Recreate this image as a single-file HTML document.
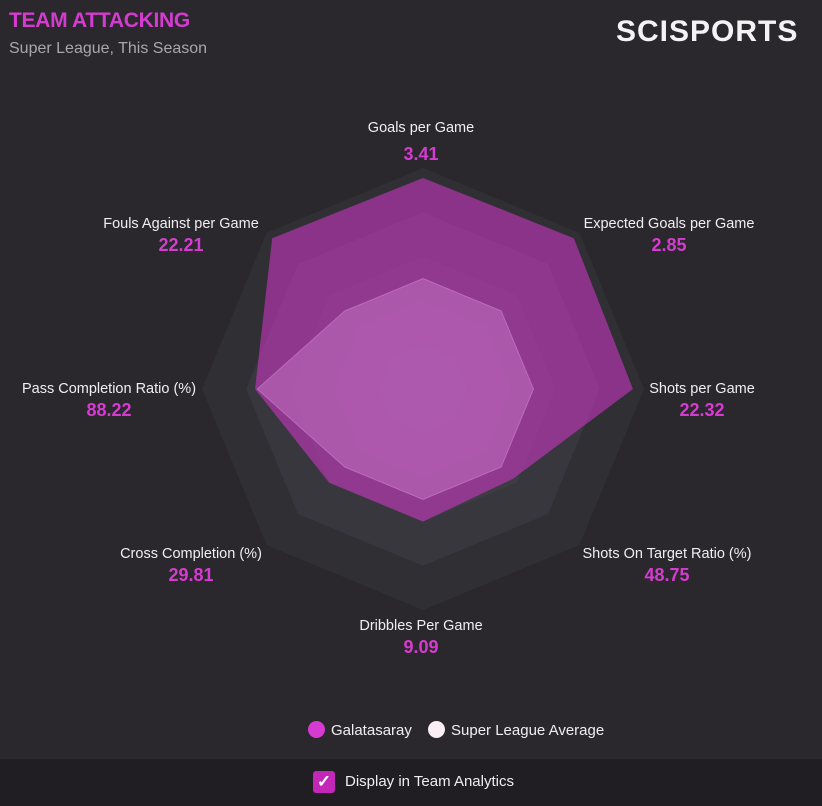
<!DOCTYPE html>
<html><head><meta charset="utf-8"><style>
body{margin:0;width:822px;height:806px;background:#2a282c;font-family:"Liberation Sans",sans-serif;overflow:hidden;position:relative}
.t{position:absolute;left:9px;top:9px;color:#d63bd1;font-weight:bold;font-size:21px;letter-spacing:-0.3px}
.s{position:absolute;left:9px;top:40px;color:#a9a7ab;font-size:16px}
.logo{position:absolute;left:616px;top:15px;color:#f4f2f4;font-weight:bold;font-size:30px;letter-spacing:1px}
.bot{position:absolute;left:0;top:759px;width:822px;height:47px;background:#201e22}
</style></head><body>
<div class="t">TEAM ATTACKING</div>
<div class="s">Super League, This Season</div>
<div class="logo">SCISPORTS</div>
<svg id="chart" width="822" height="759" style="position:absolute;left:0;top:0"></svg>
<div class="bot">
<div style="position:absolute;left:313px;top:12px;width:22px;height:22px;border-radius:3px;background:#c227b8;color:#fff;font-size:17px;line-height:22px;text-align:center;font-weight:bold">✓</div>
<div style="position:absolute;left:345px;top:14px;color:#f0eef0;font-size:15px">Display in Team Analytics</div>
</div>
<script>
const labels=["Goals per Game","Expected Goals per Game","Shots per Game","Shots On Target Ratio (%)","Dribbles Per Game","Cross Completion (%)","Pass Completion Ratio (%)","Fouls Against per Game"];
const displayValues=["3.41","2.85","22.32","48.75","9.09","29.81","88.22","22.21"];
const teamScores=[0.955,0.965,0.95,0.575,0.6,0.6,0.76,0.965];
const avgScores=[0.5,0.5,0.5,0.5,0.5,0.5,0.75,0.5];
const ringLevels=[1,0.8,0.6,0.4,0.2];
const ringColors=["#302f34","#38373d","#3d3c42","#403f46","#424148"];
const NS="http://www.w3.org/2000/svg";
const svg=document.getElementById('chart');
const cx=423,cy=389,R=221,N=labels.length;
function ang(i){return -Math.PI/2+i*2*Math.PI/N;}
function pt(i,v){return [cx+Math.cos(ang(i))*R*v,cy+Math.sin(ang(i))*R*v];}
function poly(vals,fill,name){const p=document.createElementNS(NS,'polygon');
p.setAttribute('points',vals.map((v,i)=>pt(i,v).join(',')).join(' '));p.setAttribute('fill',fill);


svg.appendChild(p);return p;}
ringLevels.forEach((l,k)=>poly(labels.map(()=>l),ringColors[k],'grid-ring'));
poly(teamScores,'rgba(205,55,200,0.58)','galatasaray-area');
const a=poly(avgScores,'rgba(235,160,235,0.3)','league-average-area');
a.setAttribute('stroke','rgba(240,170,240,0.35)');
const lpos=[[421,127],[669,223],[702,388],[667,553],[421,625],[191,553],[109,388],[181,223]];
const voff=[26,21,21,21,21,21,21,21];
labels.forEach((L,i)=>{
const t=document.createElementNS(NS,'text');t.setAttribute('x',lpos[i][0]);t.setAttribute('y',lpos[i][1]+5);
t.setAttribute('text-anchor','middle');t.setAttribute('fill','#f0eef0');t.setAttribute('font-size','14.5');t.textContent=L;


svg.appendChild(t);
const v=document.createElementNS(NS,'text');v.setAttribute('x',lpos[i][0]);v.setAttribute('y',lpos[i][1]+voff[i]+7);
v.setAttribute('text-anchor','middle');v.setAttribute('fill','#d63bd1');v.setAttribute('font-size','18');v.setAttribute('font-weight','bold');v.textContent=displayValues[i];


svg.appendChild(v);});
</script>
<div style="position:absolute;left:308px;top:721px;color:#f0eef0;font-size:15px"><span style="display:inline-block;width:17px;height:17px;border-radius:50%;background:#d63bd1;vertical-align:-3px;margin-right:6px"></span>Galatasaray</div>
<div style="position:absolute;left:428px;top:721px;color:#f0eef0;font-size:15px"><span style="display:inline-block;width:17px;height:17px;border-radius:50%;background:#fbeef5;vertical-align:-3px;margin-right:6px"></span>Super League Average</div>
</body></html>
